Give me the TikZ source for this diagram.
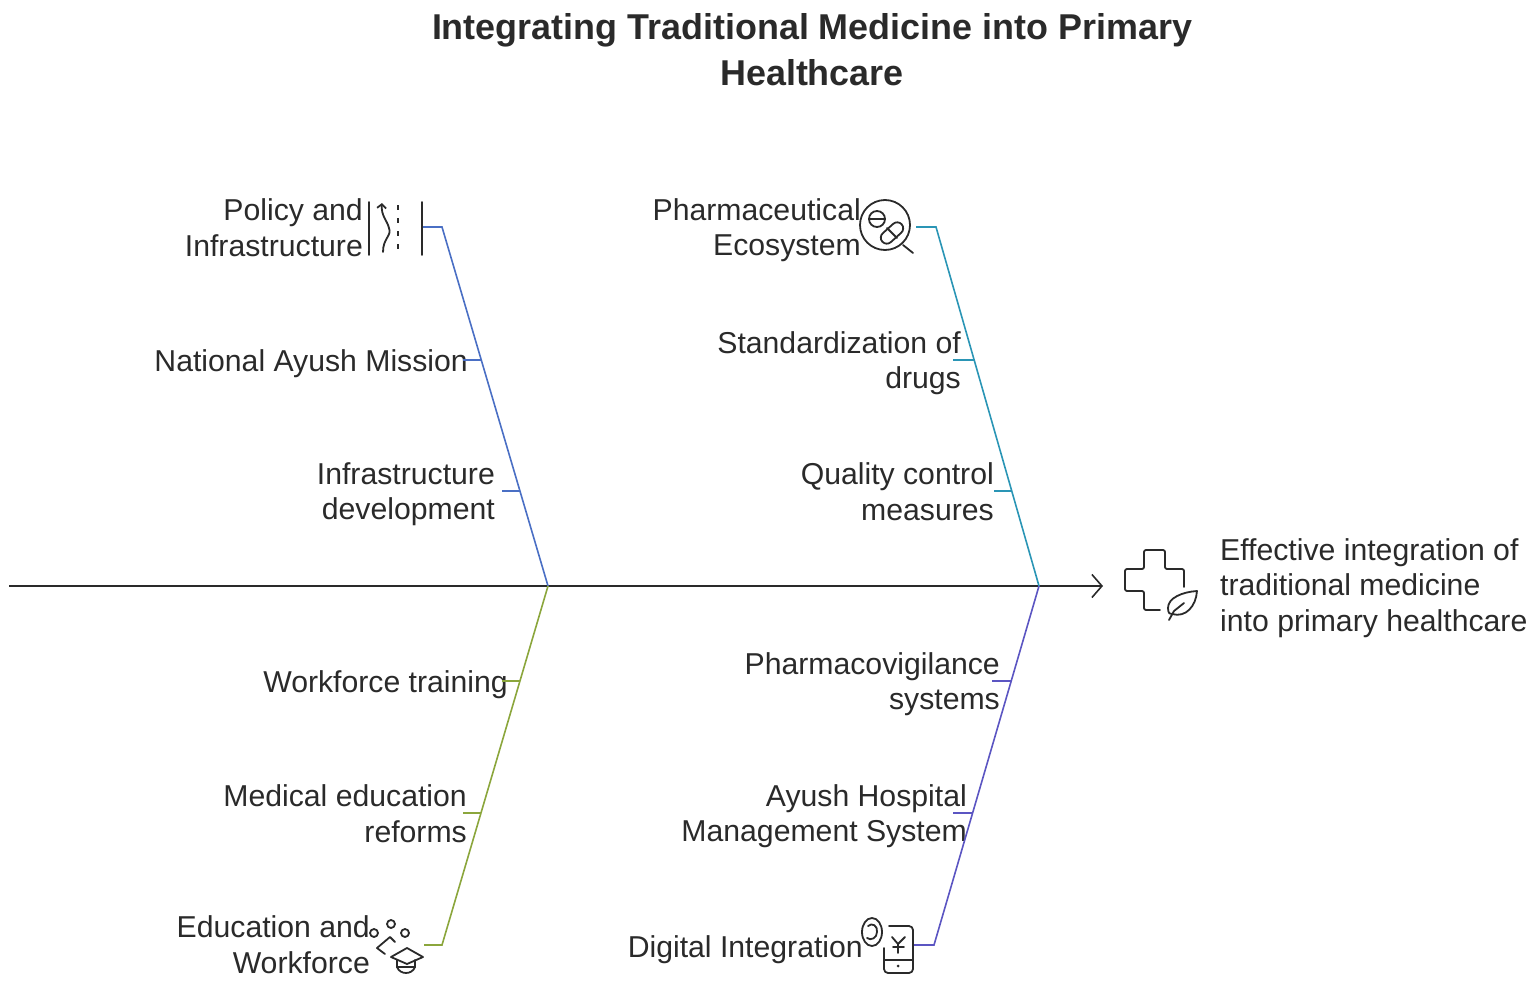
\documentclass[tikz,border=0pt]{standalone}
\usepackage{fontspec}
\setmainfont{Liberation Sans}
\usetikzlibrary{arrows.meta,positioning}
\definecolor{blueBone}{HTML}{4A6FC4}
\definecolor{tealBone}{HTML}{2A95B5}
\definecolor{greenBone}{HTML}{8BA63C}
\definecolor{purpleBone}{HTML}{5B55C2}
\definecolor{inkText}{HTML}{2A2A2A}
\tikzset{%
	causetext/.style = {anchor=east, align=right, inner sep=0pt, text=inkText, font=\fontsize{30.2}{35.5}\selectfont,
		execute at begin node=\rule[-5pt]{0pt}{32pt}, execute at end node=\rule[-5pt]{0pt}{32pt}},
	bone/.style      = {line width=1.6pt},
	icon/.style      = {line width=1.8pt, draw=inkText, line cap=round, line join=round},
}
\begin{document}
\begin{tikzpicture}[x=1pt,y=-1pt]
	\useasboundingbox (0,0) rectangle (1535,982);
	
	\node[align=center, inner sep=0pt, text=inkText, font=\fontsize{35.9}{46}\selectfont\bfseries] (title) at (812,50) {Integrating Traditional Medicine into Primary\\Healthcare};
	
	% spine
	\coordinate (tail) at (9,586);
	\coordinate (head) at (1103,586);
	\coordinate (blueJoint) at (548,586);
	\coordinate (tealJoint) at (1039,586);
	\draw[line width=1.6pt, inkText, -{Straight Barb[length=10pt,width=23pt]}] (tail) -- (head);
	
	% upper left
	\node[causetext] (policy) at (363,230) {Policy and\\Infrastructure};
	\node[causetext] (mission) at (468,361) {National Ayush Mission};
	\node[causetext] (infra) at (495,494) {Infrastructure\\development};
	\coordinate (policyStub) at (423,227);
	\coordinate (policyBend) at (442,227);
	\coordinate (missionStart) at (463,360);
	\coordinate (missionTick) at (481,360);
	\coordinate (infraStart) at (502,491);
	\coordinate (infraTick) at (520,491);
	\draw[bone, blueBone] (policyStub) -- (policyBend) -- (blueJoint);
	\draw[bone, blueBone] (missionStart) -- (missionTick);
	\draw[bone, blueBone] (infraStart) -- (infraTick);
	
	% upper right
	\node[causetext] (pharma) at (861,230) {Pharmaceutical\\Ecosystem};
	\node[causetext] (drugs) at (961,363) {Standardization of\\drugs};
	\node[causetext] (quality) at (994,494) {Quality control\\measures};
	\coordinate (pharmaStub) at (916,227);
	\coordinate (pharmaBend) at (936,227);
	\coordinate (drugsStart) at (953,360);
	\coordinate (drugsTick) at (974,360);
	\coordinate (qualityStart) at (994,491);
	\coordinate (qualityTick) at (1012,491);
	\draw[bone, tealBone] (pharmaStub) -- (pharmaBend) -- (tealJoint);
	\draw[bone, tealBone] (drugsStart) -- (drugsTick);
	\draw[bone, tealBone] (qualityStart) -- (qualityTick);
	
	% lower left
	\node[causetext] (training) at (508,682) {Workforce training};
	\node[causetext] (reforms) at (467,816) {Medical education\\reforms};
	\node[causetext] (education) at (370,947) {Education and\\Workforce};
	\coordinate (trainingStart) at (502,681);
	\coordinate (trainingTick) at (520,681);
	\coordinate (reformsStart) at (463,813);
	\coordinate (reformsTick) at (481,813);
	\coordinate (eduStub) at (424,945);
	\coordinate (eduBend) at (442,945);
	\draw[bone, greenBone] (eduStub) -- (eduBend) -- (blueJoint);
	\draw[bone, greenBone] (trainingStart) -- (trainingTick);
	\draw[bone, greenBone] (reformsStart) -- (reformsTick);
	
	% lower right
	\node[causetext] (vigilance) at (1000,684) {Pharmacovigilance\\systems};
	\node[causetext] (hospital) at (967,816) {Ayush Hospital\\Management System};
	\node[causetext] (digital) at (863,947) {Digital Integration};
	\coordinate (vigilanceStart) at (992,681);
	\coordinate (vigilanceTick) at (1011,681);
	\coordinate (hospitalStart) at (953,813);
	\coordinate (hospitalTick) at (973,813);
	\coordinate (digitalStub) at (914,945);
	\coordinate (digitalBend) at (934,945);
	\draw[bone, purpleBone] (digitalStub) -- (digitalBend) -- (tealJoint);
	\draw[bone, purpleBone] (vigilanceStart) -- (vigilanceTick);
	\draw[bone, purpleBone] (hospitalStart) -- (hospitalTick);
	
	% outcome
	\node[causetext, anchor=west, align=left] (outcome) at (1220,588) {Effective integration of\\traditional medicine\\into primary healthcare};
	
	% road icon
	\draw[icon] (369,202) -- (369,255);
	\draw[icon] (422,202) -- (422,255);
	\draw[icon, -{Straight Barb[length=4pt,width=9pt]}] (383,252) .. controls (383,238) and (392,236) .. (389,228) .. controls (387,220) and (381,216) .. (382,203);
	\draw[icon, line cap=butt, dash pattern=on 5pt off 8pt] (398,205) -- (398,252);
	
	% magnifier icon
	\draw[icon] (885,225) circle (25);
	\draw[icon] (903,245) -- (913,253);
	\draw[icon] (877,219) circle (8);
	\draw[icon] (869,219) -- (885,219);
	\draw[icon, rotate around={42:(892,233)}, rounded corners=6pt] (879,227) rectangle (905,239);
	\draw[icon] (887,228) -- (897,238);
	
	% graduation icon
	\draw[icon] (391,924) circle (4);
	\draw[icon] (405,933) circle (4);
	\draw[icon] (374,933) circle (4);
	\draw[icon] (385,954) -- (377,948) -- (390,937) -- (395,942);
	\draw[icon] (391,957) -- (407,948) -- (423,957) -- (407,964) -- cycle;
	\draw[icon] (397,960) -- (397,967) .. controls (400,975) and (412,975) .. (415,967) -- (415,960);
	\draw[icon] (397,967) -- (415,967);
	
	% phone icon
	\draw[icon, rounded corners=4pt] (889,926) -- (913,926) -- (913,973) -- (884,973) -- (884,948);
	\draw[icon] (884,960) -- (913,960);
	\fill[inkText] (898,966) circle (1.5);
	\draw[icon] (892,937) -- (898,944) -- (905,937);
	\draw[icon] (898,944) -- (898,953);
	\draw[icon] (893,947) -- (904,947);
	\draw[icon] (872,932) ellipse (10 and 14);
	\draw[icon] (868,926) .. controls (872,922) and (878,926) .. (877,932) .. controls (877,938) and (871,941) .. (867,938);
	
	% cross and leaf icon
	\draw[icon, rounded corners=2pt] (1184,587) -- (1184,569) -- (1165,569) -- (1165,550) -- (1144,550) -- (1144,569) -- (1125,569) -- (1125,591) -- (1144,591) -- (1144,610) -- (1160,610);
	\draw[icon] (1197,591) .. controls (1182,592) and (1168,598) .. (1168,608) .. controls (1168,613) and (1170,615) .. (1172,614) .. controls (1186,618) and (1196,606) .. (1197,591) -- cycle;
	\draw[icon] (1169,620) -- (1174,611) -- (1184,603);
\end{tikzpicture}
\end{document}
